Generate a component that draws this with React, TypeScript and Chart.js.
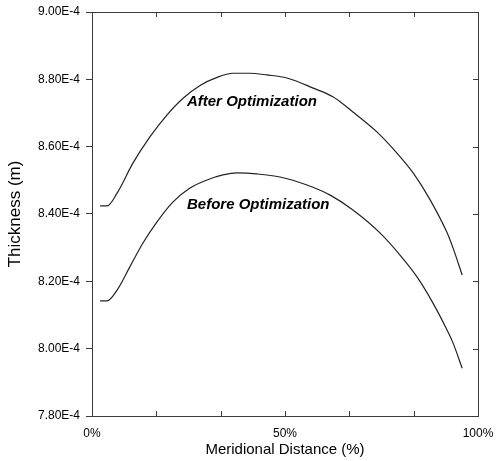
import React, { useEffect, useRef } from "react";
import { Chart, registerables } from "chart.js";

Chart.register(...registerables);

// Meridional distance (%) and thickness (m)
const X_AFTER = [2.1, 3.9, 6.5, 10.6, 15.0, 19.4, 23.6, 28.0, 32.4, 36.5, 40.9, 45.3, 50.5, 57.3, 62.4, 67.6, 73.8, 79.0, 83.2, 87.6, 92.0, 93.5, 95.9];
const Y_AFTER = [8.424e-4, 8.424e-4, 8.462e-4, 8.551e-4, 8.629e-4, 8.694e-4, 8.744e-4, 8.782e-4, 8.806e-4, 8.818e-4, 8.818e-4, 8.813e-4, 8.804e-4, 8.774e-4, 8.748e-4, 8.703e-4, 8.644e-4, 8.581e-4, 8.522e-4, 8.442e-4, 8.344e-4, 8.300e-4, 8.219e-4];

const X_BEFORE = [2.1, 3.9, 6.5, 9.8, 13.2, 16.8, 21.0, 25.4, 29.8, 33.9, 37.6, 42.7, 48.7, 55.7, 61.7, 67.6, 74.6, 79.8, 84.2, 88.3, 92.0, 93.5, 95.9];
const Y_BEFORE = [8.142e-4, 8.142e-4, 8.174e-4, 8.243e-4, 8.314e-4, 8.376e-4, 8.436e-4, 8.477e-4, 8.501e-4, 8.516e-4, 8.522e-4, 8.519e-4, 8.510e-4, 8.486e-4, 8.456e-4, 8.412e-4, 8.344e-4, 8.278e-4, 8.213e-4, 8.136e-4, 8.055e-4, 8.018e-4, 7.942e-4];

const X_TICKS = [0, 16.6667, 33.3333, 50, 66.6667, 83.3333, 100];
const X_TICK_LABELS = ["0%", "", "", "50%", "", "", "100%"];
const Y_TICKS = [7.8e-4, 8.0e-4, 8.2e-4, 8.4e-4, 8.6e-4, 8.8e-4, 9.0e-4];
const Y_TICK_LABELS = ["7.80E-4", "8.00E-4", "8.20E-4", "8.40E-4", "8.60E-4", "8.80E-4", "9.00E-4"];

const NOTE_TEXTS = ["After Optimization", "Before Optimization"];
const NOTE_X = [24.6, 24.6];
const NOTE_Y = [8.72e-4, 8.415e-4];

const FONT = "'Liberation Sans', Arial, Helvetica, sans-serif";

const framePlugin = {
  id: "frameAndNotes",
  afterDraw(chart: any) {
    const { ctx, chartArea } = chart;
    const xs = chart.scales.x;
    const ys = chart.scales.y;
    const { left, right, top, bottom } = chartArea;
    ctx.save();
    ctx.strokeStyle = "#3a3a3a";
    ctx.lineWidth = 1;
    ctx.strokeRect(Math.round(left) + 0.5, Math.round(top) + 0.5, Math.round(right - left), Math.round(bottom - top));
    ctx.beginPath();
    X_TICKS.forEach((v) => {
      const px = Math.round(xs.getPixelForValue(v)) + 0.5;
      ctx.moveTo(px, bottom);
      ctx.lineTo(px, bottom - 5);
      ctx.moveTo(px, top);
      ctx.lineTo(px, top + 5);
    });
    Y_TICKS.forEach((v) => {
      const py = Math.round(ys.getPixelForValue(v)) + 0.5;
      ctx.moveTo(right, py);
      ctx.lineTo(right - 5, py);
    });
    ctx.stroke();
    ctx.fillStyle = "#000";
    ctx.font = `italic bold 15px ${FONT}`;
    ctx.textAlign = "left";
    ctx.textBaseline = "alphabetic";
    NOTE_TEXTS.forEach((t, i) => {
      ctx.fillText(t, xs.getPixelForValue(NOTE_X[i]), ys.getPixelForValue(NOTE_Y[i]));
    });
    ctx.restore();
  },
};

export default function App() {
  const ref = useRef<HTMLCanvasElement | null>(null);
  useEffect(() => {
    if (!ref.current) return;
    const chart = new Chart(ref.current, {
      type: "line",
      data: {
        datasets: [
          {
            label: "After Optimization",
            data: X_AFTER.map((x, i) => ({ x, y: Y_AFTER[i] })),
            borderColor: "#222",
            borderWidth: 1.2,
            pointRadius: 0,
            fill: false,
            cubicInterpolationMode: "monotone",
          },
          {
            label: "Before Optimization",
            data: X_BEFORE.map((x, i) => ({ x, y: Y_BEFORE[i] })),
            borderColor: "#222",
            borderWidth: 1.2,
            pointRadius: 0,
            fill: false,
            cubicInterpolationMode: "monotone",
          },
        ],
      },
      options: {
        responsive: true,
        maintainAspectRatio: false,
        animation: false,
        layout: { padding: { top: 12, right: 20, left: 0, bottom: 0 } },
        plugins: { legend: { display: false }, tooltip: { enabled: false } },
        scales: {
          x: {
            type: "linear",
            min: 0,
            max: 100,
            afterBuildTicks: (s: any) => {
              s.ticks = X_TICKS.map((v) => ({ value: v }));
            },
            afterFit: (s: any) => {
              s.height = 45;
              s.paddingLeft = 0;
              s.paddingRight = 0;
            },
            ticks: {
              autoSkip: false,
              maxRotation: 0,
              padding: 10,
              color: "#000",
              font: { family: FONT, size: 12 },
              callback: (_v: any, i: number) => X_TICK_LABELS[i],
            },
            grid: { drawOnChartArea: false, drawTicks: false },
            border: { display: false },
            title: {
              display: true,
              text: "Meridional Distance (%)",
              color: "#000",
              font: { family: FONT, size: 15 },
              padding: { top: 0, bottom: 2 },
            },
          },
          y: {
            type: "linear",
            min: 7.8e-4,
            max: 9.0e-4,
            afterBuildTicks: (s: any) => {
              s.ticks = Y_TICKS.map((v) => ({ value: v }));
            },
            afterFit: (s: any) => {
              s.width = 92;
              s.paddingTop = 0;
              s.paddingBottom = 0;
            },
            ticks: {
              autoSkip: false,
              padding: 6,
              color: "#000",
              font: { family: FONT, size: 12 },
              callback: (_v: any, i: number) => Y_TICK_LABELS[i],
            },
            grid: { drawOnChartArea: false, drawTicks: true, tickLength: 6, color: "#3a3a3a" },
            border: { display: false },
            title: {
              display: true,
              text: "Thickness (m)",
              color: "#000",
              font: { family: FONT, size: 17 },
              padding: { top: 5, bottom: 0 },
            },
          },
        },
      },
      plugins: [framePlugin],
    } as any);
    return () => chart.destroy();
  }, []);
  return (
    <div style={{ position: "absolute", left: 0, top: 0, width: 498, height: 461, background: "#fff" }}>
      <canvas ref={ref} />
    </div>
  );
}
